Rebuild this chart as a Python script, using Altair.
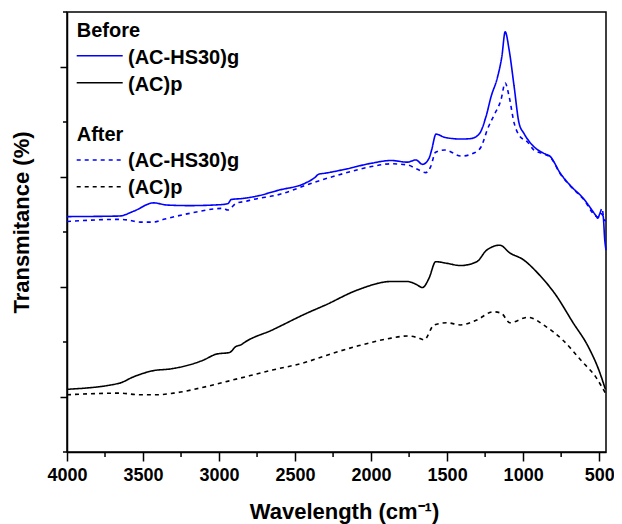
import altair as alt
import pandas as pd

# ---- data (wavenumber in cm-1, transmittance in arbitrary offset units) ----
wn_hs_before = [4000, 3657, 3560, 3430, 3343, 3193, 2974, 2940, 2920, 2844, 2757, 2608, 2432, 2370, 2345,
                2300, 2172, 1998, 1868, 1762, 1705, 1662, 1619, 1602, 1573, 1515, 1406, 1341, 1287, 1244,
                1211, 1168, 1140, 1118, 1092, 1059, 1027, 994, 929, 864, 821, 756, 691, 604, 517, 509,
                493, 474, 463, 455]
tr_hs_before = [4.28, 4.29, 4.38, 4.53, 4.49, 4.48, 4.50, 4.52, 4.59, 4.61, 4.65, 4.76, 4.89, 4.99, 5.05,
                5.07, 5.14, 5.25, 5.30, 5.27, 5.31, 5.23, 5.34, 5.49, 5.78, 5.72, 5.69, 5.70, 5.79, 6.10,
                6.46, 6.82, 7.19, 7.64, 7.31, 6.64, 5.98, 5.79, 5.55, 5.43, 5.37, 5.07, 4.85, 4.61, 4.28, 4.25,
                4.34, 4.29, 3.85, 3.67]

wn_hs_after = [4000, 3657, 3603, 3517, 3430, 3364, 3191, 2974, 2942, 2888, 2822, 2779, 2608, 2367, 2172,
               1998, 1868, 1762, 1695, 1640, 1608, 1576, 1515, 1406, 1320, 1276, 1233, 1190, 1146, 1118,
               1092, 1059, 1027, 973, 929, 864, 821, 756, 691, 604, 517, 505, 481, 468, 455]
tr_hs_after = [4.19, 4.23, 4.22, 4.18, 4.18, 4.23, 4.34, 4.43, 4.40, 4.52, 4.56, 4.59, 4.68, 4.91, 5.07,
               5.19, 5.24, 5.22, 5.14, 5.08, 5.19, 5.45, 5.49, 5.38, 5.44, 5.55, 5.88, 6.13, 6.40, 6.71,
               6.46, 5.98, 5.76, 5.64, 5.49, 5.42, 5.36, 5.06, 4.84, 4.60, 4.28, 4.27, 4.43, 4.22, 4.20]

wn_ac_before = [4000, 3657, 3560, 3430, 3321, 3104, 3017, 2931, 2888, 2855, 2834, 2649, 2426, 2302, 2085,
                1868, 1760, 1705, 1662, 1619, 1575, 1500, 1413, 1305, 1240, 1153, 1088, 1001, 893, 784,
                676, 567, 502, 459]
tr_ac_before = [1.14, 1.25, 1.37, 1.48, 1.51, 1.67, 1.78, 1.81, 1.92, 1.95, 1.99, 2.22, 2.52, 2.67, 2.95,
                3.10, 3.10, 3.05, 2.99, 3.16, 3.46, 3.43, 3.39, 3.46, 3.67, 3.76, 3.62, 3.50, 3.22, 2.85,
                2.37, 1.89, 1.49, 1.14]

wn_ac_after = [4000, 3657, 3517, 3408, 3299, 3083, 2866, 2649, 2432, 2280, 2085, 1868, 1760, 1695, 1651,
               1586, 1500, 1413, 1305, 1196, 1142, 1088, 969, 850, 741, 611, 524, 459]
tr_ac_after = [1.04, 1.07, 1.04, 1.04, 1.07, 1.19, 1.34, 1.49, 1.63, 1.77, 1.93, 2.07, 2.11, 2.08, 2.04,
               2.31, 2.35, 2.31, 2.40, 2.55, 2.52, 2.35, 2.45, 2.28, 2.04, 1.64, 1.37, 1.07]

series_names = ["Before (AC-HS30)g", "Before (AC)p", "After (AC-HS30)g", "After (AC)p"]
series_colors = ["#0000ff", "#000000", "#0000ff", "#000000"]
series_dashes = [[1, 0], [1, 0], [4, 4], [4, 4]]

x_major = [4000, 3500, 3000, 2500, 2000, 1500, 1000, 500]
x_minor = [3750, 3250, 2750, 2250, 1750, 1250, 750]
y_major = [1, 3, 5, 7]
y_minor = [0, 2, 4, 6, 8]

FONT = "Liberation Sans"

frames = []
for name, wn, tr in zip(series_names,
                        [wn_hs_before, wn_ac_before, wn_hs_after, wn_ac_after],
                        [tr_hs_before, tr_ac_before, tr_hs_after, tr_ac_after]):
    frames.append(pd.DataFrame({"wn": wn, "T": tr, "series": name}))
df = pd.concat(frames, ignore_index=True)

x_scale = alt.Scale(domain=[4000, 455], nice=False, zero=False)
y_scale = alt.Scale(domain=[0, 8], nice=False, zero=False)

lines = alt.Chart(df).mark_line(strokeWidth=1.6, interpolate="monotone").encode(
    x=alt.X("wn:Q", scale=x_scale,
            axis=alt.Axis(values=x_major, format="d", title="Wavelength (cm\u207b\u00b9)",
                          tickSize=9, labelPadding=5, labelFlush=False, labelOverlap=False,
                          labelFontSize=18, labelFontWeight="bold", labelFont=FONT, labelColor="black",
                          titleFontSize=22, titleFontWeight="bold", titleFont=FONT, titleColor="black",
                          titleX=277, titleY=66, titleBaseline="alphabetic", titleAlign="center")),
    y=alt.Y("T:Q", scale=y_scale,
            axis=alt.Axis(values=y_major, labels=False, tickSize=7,
                          title="Transmitance (%)", titleFontSize=22, titleFontWeight="bold",
                          titleFont=FONT, titleColor="black", titleAngle=-90,
                          titleX=-46, titleY=210, titleBaseline="middle", titleAlign="center")),
    color=alt.Color("series:N", scale=alt.Scale(domain=series_names, range=series_colors), legend=None),
    strokeDash=alt.StrokeDash("series:N", scale=alt.Scale(domain=series_names, range=series_dashes),
                              legend=None),
    order=alt.Order("wn:Q", sort="descending"),
)

xminor = alt.Chart(pd.DataFrame({"v": x_minor})).mark_rule(color="black", strokeWidth=1.5).encode(
    x=alt.X("v:Q", scale=x_scale), y=alt.value(440), y2=alt.value(445))
yminor = alt.Chart(pd.DataFrame({"v": y_minor})).mark_rule(color="black", strokeWidth=1.5).encode(
    y=alt.Y("v:Q", scale=y_scale), x=alt.value(-4), x2=alt.value(0))

one = alt.Data(values=[{}])
legend_layers = []
# headers
for txt, yb in [("Before", 24.7), ("After", 129)]:
    legend_layers.append(alt.Chart(one).mark_text(
        text=txt, align="left", baseline="alphabetic", font=FONT, fontSize=20, fontWeight="bold",
        color="black").encode(x=alt.value(9.7), y=alt.value(yb)))
# entries
entries = [("(AC-HS30)g", series_colors[0], series_dashes[0], 43.7, 52.0),
           ("(AC)p", series_colors[1], series_dashes[1], 70.7, 78.7),
           ("(AC-HS30)g", series_colors[2], series_dashes[2], 148.0, 155.0),
           ("(AC)p", series_colors[3], series_dashes[3], 174.7, 182.0)]
for label, col, dash, yl, yt in entries:
    legend_layers.append(alt.Chart(one).mark_rule(color=col, strokeDash=dash, strokeWidth=1.6).encode(
        x=alt.value(9.7), x2=alt.value(55.7), y=alt.value(yl)))
    legend_layers.append(alt.Chart(one).mark_text(
        text=label, align="left", baseline="alphabetic", font=FONT, fontSize=20, fontWeight="bold",
        color="black").encode(x=alt.value(61), y=alt.value(yt)))

chart = alt.layer(lines, xminor, yminor, *legend_layers).properties(
    width=539, height=440,
    padding={"left": 59, "top": 4, "right": 8, "bottom": 72},
    autosize=alt.AutoSizeParams(type="none"),
).configure_view(stroke="black", strokeWidth=1.5).configure_axis(
    grid=False, domainColor="black", domainWidth=1.5, tickColor="black", tickWidth=1.5,
)

chart.save("out.html", embed_options={"renderer": "svg", "actions": False})
